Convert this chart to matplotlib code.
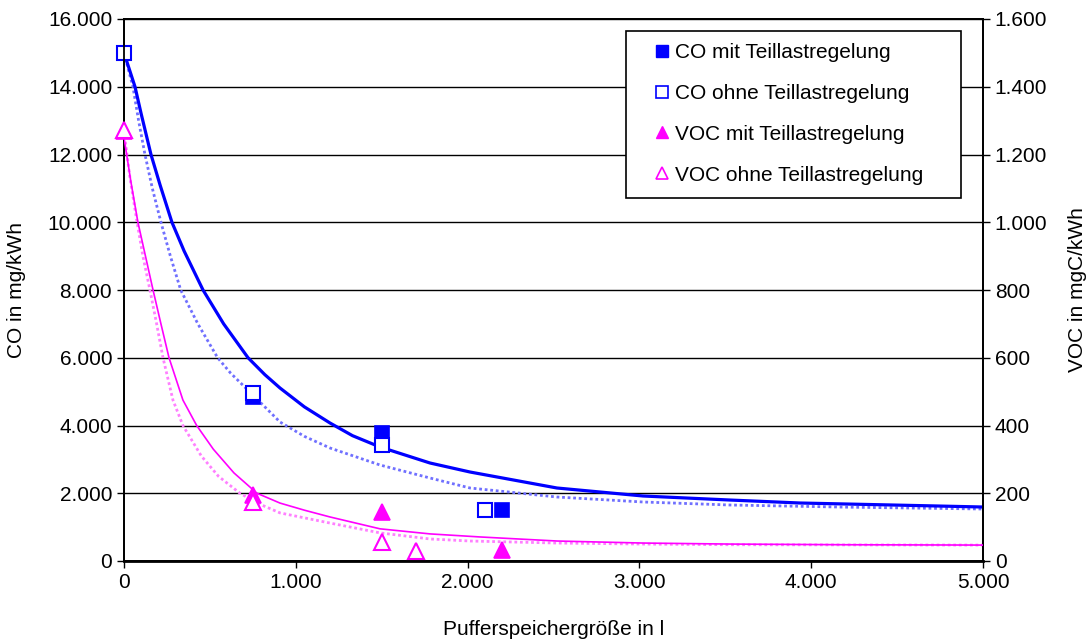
import matplotlib
matplotlib.use("Agg")
import matplotlib.pyplot as plt
from matplotlib.ticker import FuncFormatter, MultipleLocator
from matplotlib.patches import Rectangle

plt.rcParams['font.family'] = ['Liberation Sans', 'DejaVu Sans']

# measured points
co_mit_x = [0, 750, 1500, 2200]
co_mit_y = [15000, 4850, 3780, 1500]
co_ohne_x = [0, 750, 1500, 2100]
co_ohne_y = [15000, 4950, 3420, 1500]
voc_mit_x = [0, 750, 1500, 2200]
voc_mit_y = [1270, 195, 145, 33]
voc_ohne_x = [0, 750, 1500, 1700]
voc_ohne_y = [1272, 174, 56, 30]

# trend lines
trend_co_mit_x = [0, 64, 100, 157, 210, 279, 350, 460, 580, 722, 820, 908, 1050, 1199, 1330, 1490,
                  1781, 2014, 2520, 3021, 3527, 3935, 4500, 5000]
trend_co_mit_y = [15000, 14000, 13200, 12000, 11100, 10000, 9150, 8000, 7000, 6000, 5500, 5107, 4550,
                  4074, 3700, 3366, 2893, 2627, 2155, 1919, 1800, 1712, 1650, 1594]
trend_co_ohne_x = [0, 52, 85, 122, 165, 215, 270, 330, 430, 545, 620, 700, 800, 908, 1050, 1199,
                   1490, 1781, 2014, 2520, 3021, 3527, 4200, 5000]
trend_co_ohne_y = [15000, 14000, 13000, 12000, 11000, 10000, 9000, 8000, 7000, 6000, 5550, 5150,
                   4650, 4103, 3680, 3336, 2834, 2450, 2155, 1889, 1742, 1653, 1590, 1535]
trend_voc_mit_x = [0, 40, 81, 125, 169, 215, 262, 343, 423, 520, 640, 774, 908, 1050, 1199, 1490,
                   1781, 2072, 2520, 3021, 3527, 4200, 5000]
trend_voc_mit_y = [1250, 1120, 1000, 900, 800, 700, 600, 475, 400, 330, 260, 200, 171, 150, 130, 95,
                   80, 71, 59, 53, 50, 48, 47]
trend_voc_ohne_x = [0, 35, 76, 110, 151, 190, 227, 285, 343, 450, 550, 675, 780, 908, 1199, 1490,
                    1781, 2014, 2520, 3021, 3527, 5000]
trend_voc_ohne_y = [1270, 1130, 1000, 900, 800, 700, 600, 475, 400, 310, 250, 200, 170, 142, 112, 83,
                    65, 59, 53, 50, 48, 47]

blue = '#0000ff'
magenta = '#ff00ff'
fs = 15

fig = plt.figure(figsize=(10.87, 6.43), dpi=100)
ax = fig.add_axes([124 / 1087, 1 - 561 / 643, (983 - 124) / 1087, (561 - 19) / 643])
ax2 = ax.twinx()

ax.set_xlim(0, 5000)
ax.set_ylim(0, 16000)
ax2.set_ylim(0, 1600)
ax.xaxis.set_major_locator(MultipleLocator(1000))
ax.yaxis.set_major_locator(MultipleLocator(2000))
ax2.yaxis.set_major_locator(MultipleLocator(200))

dot_fmt = FuncFormatter(lambda v, p: f"{int(round(v)):,}".replace(",", "."))
ax.xaxis.set_major_formatter(dot_fmt)
ax.yaxis.set_major_formatter(dot_fmt)
ax2.yaxis.set_major_formatter(dot_fmt)

ax.grid(axis='y', color='black', linewidth=1.0)
ax.set_axisbelow(True)
for a in (ax, ax2):
    for s in a.spines.values():
        s.set_color('black')
        s.set_linewidth(1.3)
    a.tick_params(direction='out', length=5, width=1.0, labelsize=fs, colors='black')
ax.spines['bottom'].set_linewidth(2.0)

ax.set_xlabel('Pufferspeichergröße in l', fontsize=fs, labelpad=20)
ax.set_ylabel('CO in mg/kWh', fontsize=fs, labelpad=16)
ax2.set_ylabel('VOC in mgC/kWh', fontsize=fs, labelpad=15)

# trend lines
ax.plot(trend_co_ohne_x, trend_co_ohne_y, color='#7070ff', lw=2.0, ls=(0, (1, 1)), zorder=2)
ax.plot(trend_co_mit_x, trend_co_mit_y, color=blue, lw=2.3, zorder=3)
ax2.plot(trend_voc_ohne_x, trend_voc_ohne_y, color='#ff80ff', lw=2.0, ls=(0, (1, 1)), zorder=2)
ax2.plot(trend_voc_mit_x, trend_voc_mit_y, color=magenta, lw=1.2, zorder=3)

# markers
ms = 10
ax.plot(co_mit_x, co_mit_y, ls='none', marker='s', ms=ms, mfc=blue, mec=blue, mew=1.2,
        zorder=4, clip_on=False)
ax.plot(co_ohne_x, co_ohne_y, ls='none', marker='s', ms=ms, mfc='white', mec=blue, mew=1.5,
        zorder=5, clip_on=False)
ax2.plot(voc_mit_x, voc_mit_y, ls='none', marker='^', ms=ms + 1, mfc=magenta, mec=magenta, mew=1.2,
         zorder=4, clip_on=False)
ax2.plot(voc_ohne_x, voc_ohne_y, ls='none', marker='^', ms=ms + 1, mfc='white', mec=magenta, mew=1.5,
         zorder=5, clip_on=False)

# legend
h1, = ax.plot([], [], ls='none', marker='s', ms=8, mfc=blue, mec=blue)
h2, = ax.plot([], [], ls='none', marker='s', ms=8, mfc='white', mec=blue, mew=1.2)
h3, = ax.plot([], [], ls='none', marker='^', ms=9, mfc=magenta, mec=magenta)
h4, = ax.plot([], [], ls='none', marker='^', ms=9, mfc='white', mec=magenta, mew=1.2)
fig.add_artist(Rectangle((626 / 1087, 1 - 198 / 643), 335 / 1087, 167 / 643,
                         transform=fig.transFigure, facecolor='white', edgecolor='black',
                         linewidth=1.2, zorder=10))
leg = fig.legend([h1, h2, h3, h4],
                 ['CO mit Teillastregelung', 'CO ohne Teillastregelung',
                  'VOC mit Teillastregelung', 'VOC ohne Teillastregelung'],
                 loc='upper left', bbox_to_anchor=(654 / 1087, 1 - 43 / 643),
                 frameon=False, fontsize=fs, borderpad=0, borderaxespad=0,
                 handlelength=0.8, handletextpad=0.2, labelspacing=1.05)
leg.set_zorder(11)

fig.savefig('out.png', dpi=100)
